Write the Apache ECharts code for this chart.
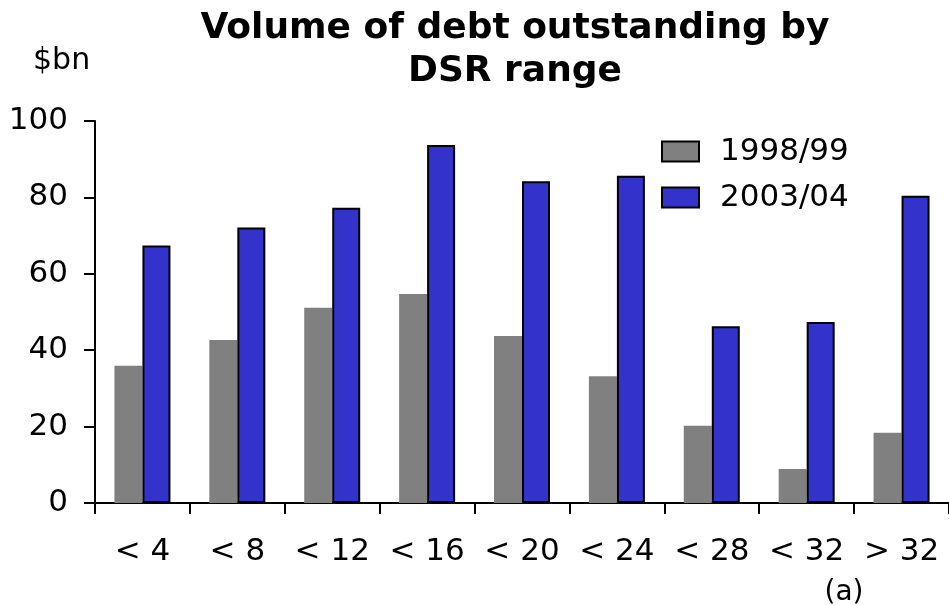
<!DOCTYPE html>
<html>
<head>
<meta charset="utf-8">
<script src="https://cdn.jsdelivr.net/npm/echarts@6/dist/echarts.min.js"></script>
<style>
  html, body { margin: 0; padding: 0; background: #fff; }
  #chart { width: 949px; height: 605px; }
</style>
</head>
<body>
<div id="chart"></div>
<script>
// DSR ranges (debt servicing ratio buckets)
const categories = ['< 4', '< 8', '< 12', '< 16', '< 20', '< 24', '< 28', '< 32', '> 32'];
// Volume of debt outstanding, $bn
const values1998 = [35.9, 42.7, 51.1, 54.7, 43.7, 33.2, 20.2, 8.9, 18.4];
const values2003 = [67.4, 72.1, 77.3, 93.7, 84.2, 85.7, 46.3, 47.4, 80.4];
const seriesNames = ['1998/99', '2003/04'];
const yTicks = { min: 0, max: 100, interval: 20 };

const FONT = 'DejaVu Sans, Verdana, sans-serif';
const GREY = '#808080';
const BLUE = '#3333CC';

const chart = echarts.init(document.getElementById('chart'), null, { renderer: 'canvas' });

chart.setOption({
  animation: false,
  backgroundColor: '#ffffff',
  title: [
    {
      text: 'Volume of debt outstanding by\nDSR range',
      left: 510,
      top: 2,
      textAlign: 'center',
      textStyle: { fontFamily: FONT, fontSize: 36, fontWeight: 'bold', color: '#000', lineHeight: 43 }
    },
    {
      text: '$bn',
      left: 28,
      top: 41,
      textStyle: { fontFamily: FONT, fontSize: 30, fontWeight: 'normal', color: '#000' }
    },
    {
      text: '(a)',
      left: 839,
      top: 574,
      textAlign: 'center',
      textStyle: { fontFamily: FONT, fontSize: 28, fontWeight: 'normal', color: '#000' }
    }
  ],
  legend: {
    orient: 'vertical',
    left: 656,
    top: 131,
    icon: 'rect',
    itemWidth: 37,
    itemHeight: 20,
    itemGap: 15,
    textStyle: { fontFamily: FONT, fontSize: 31, color: '#000', lineHeight: 30, padding: [0, 0, 0, 16] },
    data: [
      { name: seriesNames[0], itemStyle: { color: GREY, borderColor: '#000', borderWidth: 2 } },
      { name: seriesNames[1], itemStyle: { color: BLUE, borderColor: '#000', borderWidth: 2 } }
    ]
  },
  grid: { left: 95, top: 121, width: 858, height: 382, containLabel: false },
  xAxis: {
    type: 'category',
    data: categories,
    boundaryGap: true,
    axisLine: { show: true, lineStyle: { color: '#000', width: 2 } },
    axisTick: { show: true, length: 11, alignWithLabel: false, lineStyle: { color: '#000', width: 2 } },
    axisLabel: { fontFamily: FONT, fontSize: 31, color: '#000', margin: 33, interval: 0 },
    splitLine: { show: false }
  },
  yAxis: {
    type: 'value',
    min: yTicks.min,
    max: yTicks.max,
    interval: yTicks.interval,
    axisLine: { show: true, lineStyle: { color: '#000', width: 2 } },
    axisTick: { show: true, length: 11, lineStyle: { color: '#000', width: 2 } },
    axisLabel: { fontFamily: FONT, fontSize: 31, color: '#000', margin: 27, padding: [6, 0, 0, 0] },
    splitLine: { show: false }
  },
  series: [
    {
      name: seriesNames[0],
      type: 'bar',
      data: values1998,
      barWidth: 28,
      barGap: '0%',
      itemStyle: { color: GREY }
    },
    {
      name: seriesNames[1],
      type: 'bar',
      data: values2003,
      barWidth: 28,
      itemStyle: { color: BLUE, borderColor: '#000', borderWidth: 2 }
    }
  ]
});
</script>
</body>
</html>
